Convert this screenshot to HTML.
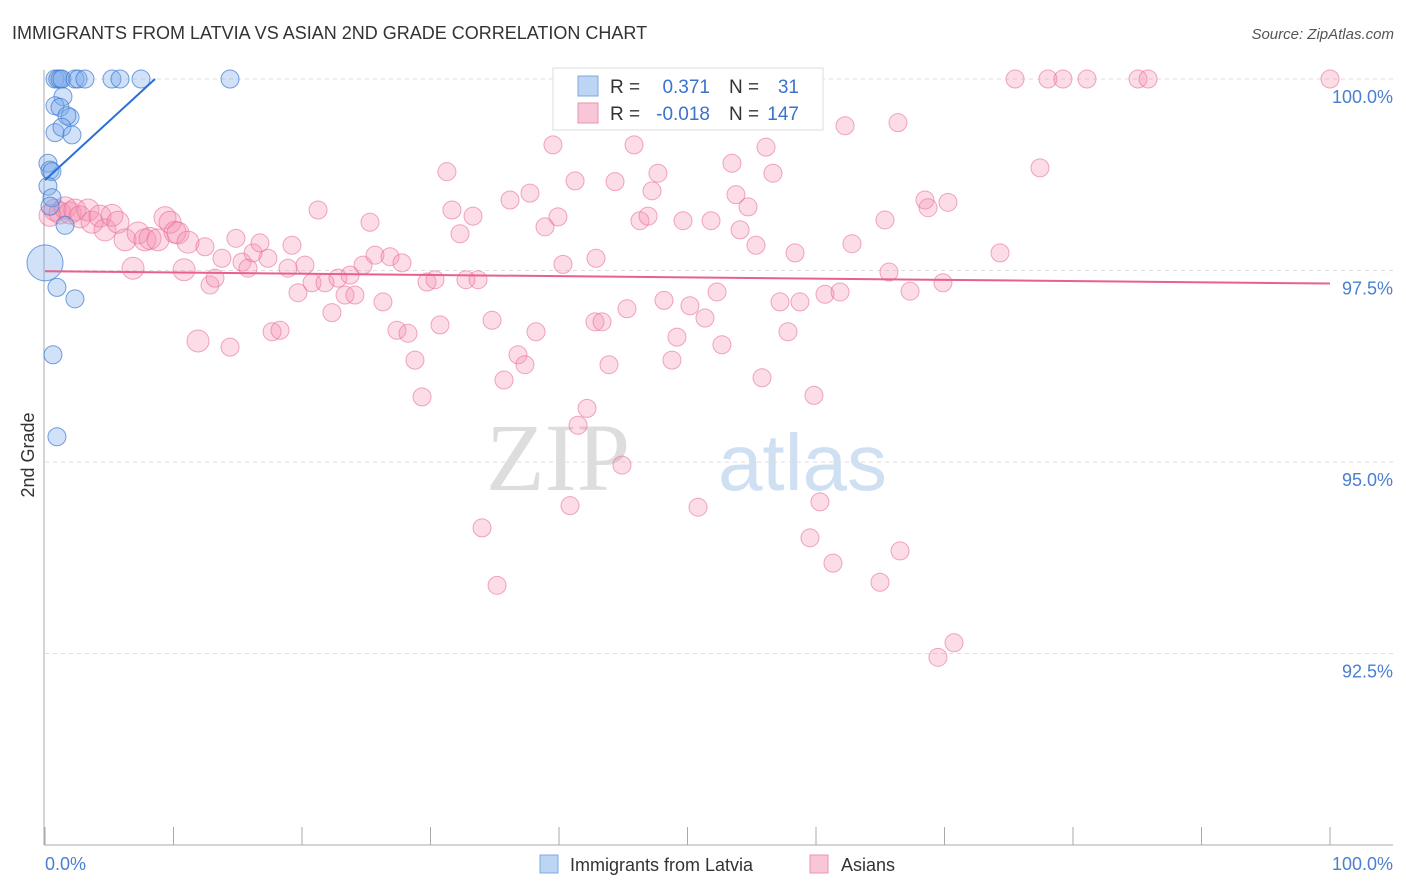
<!DOCTYPE html>
<html><head><meta charset="utf-8"><style>
body{margin:0;background:#fff;font-family:"Liberation Sans",sans-serif;}
svg{display:block}
</style></head><body>
<svg id="chart" width="1406" height="892">
<text x="12" y="39" font-size="18" fill="#333">IMMIGRANTS FROM LATVIA VS ASIAN 2ND GRADE CORRELATION CHART</text>
<text x="1394" y="39" font-size="15" fill="#555" text-anchor="end" font-style="italic">Source: ZipAtlas.com</text>
<text x="630" y="490" font-size="96" fill="#ddd" text-anchor="end" font-family="Liberation Serif,serif">ZIP</text>
<text x="718" y="490" font-size="80" fill="#cfe0f3">atlas</text>
<g id="grid"></g><g id="axes"></g><g id="pink"></g><g id="blue"></g><g id="lines"></g>
<text transform="translate(34,455) rotate(-90)" font-size="18" fill="#333" text-anchor="middle">2nd Grade</text>
<text x="45" y="870" font-size="18" fill="#4a7fd0">0.0%</text>
<text x="1393" y="870" font-size="18" fill="#4a7fd0" text-anchor="end">100.0%</text>
<g>
<rect x="540" y="855" width="18" height="18" fill="#bcd5f5" stroke="#7fa8e0"/>
<text x="570" y="871" font-size="18" fill="#333">Immigrants from Latvia</text>
<rect x="810" y="855" width="18" height="18" fill="#f8c6d6" stroke="#e995b2"/>
<text x="841" y="871" font-size="18" fill="#333">Asians</text>
</g>
<g>
<rect x="553" y="68" width="270" height="62" fill="#fff" stroke="#ddd"/>
<rect x="578" y="76" width="20" height="20" fill="#bcd5f5" stroke="#7fa8e0"/>
<rect x="578" y="103" width="20" height="20" fill="#f8c6d6" stroke="#e995b2"/>
<text x="610" y="93" font-size="19" fill="#333">R =</text>
<text x="710" y="93" font-size="19" fill="#3a72cc" text-anchor="end">0.371</text>
<text x="729" y="93" font-size="19" fill="#333">N =</text>
<text x="799" y="93" font-size="19" fill="#3a72cc" text-anchor="end">31</text>
<text x="610" y="120" font-size="19" fill="#333">R =</text>
<text x="710" y="120" font-size="19" fill="#3a72cc" text-anchor="end">-0.018</text>
<text x="729" y="120" font-size="19" fill="#333">N =</text>
<text x="799" y="120" font-size="19" fill="#3a72cc" text-anchor="end">147</text>
</g>
</svg>
<script>
const yTicks=[100,97.5,95,92.5];
const yTickLabels=["100.0%","97.5%","95.0%","92.5%"];
const xTicks=[0,10,20,30,40,50,60,70,80,90,100];
const blueX=[0.78,1.0,1.17,1.32,2.33,2.57,3.11,5.21,5.84,7.47,14.4,1.4,0.78,1.17,1.95,1.71,0.78,1.32,2.1,0.23,0.39,0.54,0.23,0.54,0.39,1.56,0,0.93,2.33,0.62,0.93];
const blueY=[100,100,100,100,100,100,100,100,100,100,100,99.77,99.65,99.63,99.5,99.52,99.3,99.37,99.27,98.9,98.81,98.79,98.6,98.45,98.34,98.09,97.6,97.28,97.13,96.4,95.33];
const blueSize=[9,9,9,9,9,9,9,9,9,9,9,9,9,9,9,9,9,9,9,9,9,9,9,9,9,9,18,9,9,9,9];
const pinkX=[0.39,0.78,1.17,1.56,1.95,2.33,2.72,3.35,3.66,4.28,4.67,5.21,5.68,6.23,6.85,7.24,7.78,8.17,8.79,9.34,9.73,10.12,10.35,10.82,11.13,11.91,12.45,12.84,13.23,13.77,14.4,14.86,15.33,15.8,16.19,16.73,17.35,17.67,18.29,18.91,19.22,19.69,20.23,20.78,21.25,21.79,22.33,22.8,23.35,23.74,24.12,24.75,25.29,25.68,26.3,26.85,27.39,27.78,28.25,28.79,29.34,29.73,30.35,30.74,31.28,31.67,32.3,32.76,33.31,33.7,34.01,34.79,35.18,35.72,36.19,36.81,37.35,37.74,38.21,38.91,39.53,39.92,40.31,40.86,41.48,42.18,41.25,42.8,42.88,43.35,43.89,44.36,44.9,45.29,45.84,46.3,46.93,47.24,47.7,48.17,48.79,49.18,49.65,50.19,50.82,51.36,51.83,52.3,52.68,53.46,53.77,54.09,54.71,55.33,55.8,56.11,56.65,57.2,57.82,58.37,58.75,59.53,59.84,60.31,60.7,61.32,61.87,62.26,62.8,64.98,65.37,65.68,66.38,66.54,67.32,68.48,68.72,69.49,69.88,70.27,70.74,74.32,75.49,77.43,78.05,79.22,81.09,85.06,85.84,100];
const pinkY=[98.22,98.29,98.25,98.32,98.25,98.29,98.2,98.29,98.13,98.21,98.03,98.22,98.13,97.9,97.53,97.99,97.9,97.92,97.9,98.19,98.13,98,97.99,97.51,97.87,96.58,97.81,97.31,97.4,97.66,96.5,97.92,97.61,97.53,97.73,97.86,97.66,96.7,96.72,97.53,97.83,97.21,97.57,97.34,98.29,97.34,96.95,97.4,97.18,97.44,97.18,97.57,98.13,97.7,97.09,97.68,96.72,97.6,96.68,96.33,95.85,97.35,97.38,96.79,98.79,98.29,97.98,97.38,98.21,97.38,94.14,96.85,93.39,96.07,98.42,96.4,96.27,98.51,96.7,98.07,99.14,98.2,97.58,94.43,95.48,95.7,98.67,96.83,97.66,96.83,96.27,98.66,94.96,97,99.14,98.15,98.21,98.54,98.77,97.11,96.33,96.63,98.15,97.04,94.41,96.88,98.15,97.22,96.53,98.9,98.49,98.03,98.33,97.83,96.1,99.11,98.77,97.09,96.7,97.73,97.09,94.01,95.87,94.48,97.19,93.68,97.22,99.39,97.85,93.43,98.16,97.48,99.43,93.84,97.23,98.42,98.32,92.45,97.34,98.39,92.64,97.73,100,98.84,100,100,100,100,100,100];
const blueTrend=[98.68,100];   // y at x=0 and x=8.56
const blueTrendX=[0,8.56];
const pinkTrend=[97.49,97.33]; // y at x=0 and x=100
const pinkTrendX=[0,100];

const X0=45,X1=1330,Y0=845,Y1=79,YMIN=90,YMAX=100;
const sx=v=>X0+(v/100)*(X1-X0);
const sy=v=>Y0-(v-YMIN)/(YMAX-YMIN)*(Y0-Y1);
const NS="http://www.w3.org/2000/svg";
function mk(tag,attrs,parent){const e=document.createElementNS(NS,tag);for(const k in attrs)e.setAttribute(k,attrs[k]);parent.appendChild(e);return e;}
const grid=document.getElementById('grid'),axes=document.getElementById('axes');
yTicks.forEach((t,i)=>{
  const l=mk('line',{x1:45,x2:1393,y1:sy(t),y2:sy(t),stroke:'#ddd','stroke-dasharray':'4,4'},grid);
  
  
  const tx=mk('text',{x:1393,y:sy(t)+24,'font-size':18,fill:'#4a7fd0','text-anchor':'end'},grid);
  tx.textContent=yTickLabels[i];
  
  
});
const ya=mk('line',{x1:44,x2:44,y1:70,y2:845,stroke:'#aaa'},axes);


const xa=mk('line',{x1:44,x2:1393,y1:845,y2:845,stroke:'#aaa'},axes);


xTicks.forEach(t=>{
  const l=mk('line',{x1:sx(t),x2:sx(t),y1:827,y2:845,stroke:'#aaa'},axes);
  
  
});
const pg=document.getElementById('pink');
pinkX.forEach((x,i)=>{
  const r=x<12?11:9;
  const c=mk('circle',{cx:sx(x),cy:sy(pinkY[i]),r:r,fill:'rgba(244,143,177,0.3)',stroke:'rgba(232,110,150,0.6)','stroke-width':1},pg);
  
  
});
const bg=document.getElementById('blue');
blueX.forEach((x,i)=>{
  const c=mk('circle',{cx:sx(x),cy:sy(blueY[i]),r:blueSize[i],fill:'rgba(120,170,235,0.35)',stroke:'rgba(60,120,210,0.7)','stroke-width':1},bg);
  
  
});
const lg=document.getElementById('lines');
const bl=mk('line',{x1:sx(blueTrendX[0]),y1:sy(blueTrend[0]),x2:sx(blueTrendX[1]),y2:sy(blueTrend[1]),stroke:'#2a6fd6','stroke-width':2},lg);


const pl=mk('line',{x1:sx(pinkTrendX[0]),y1:sy(pinkTrend[0]),x2:sx(pinkTrendX[1]),y2:sy(pinkTrend[1]),stroke:'#e8608f','stroke-width':2},lg);


</script>
</body></html>
